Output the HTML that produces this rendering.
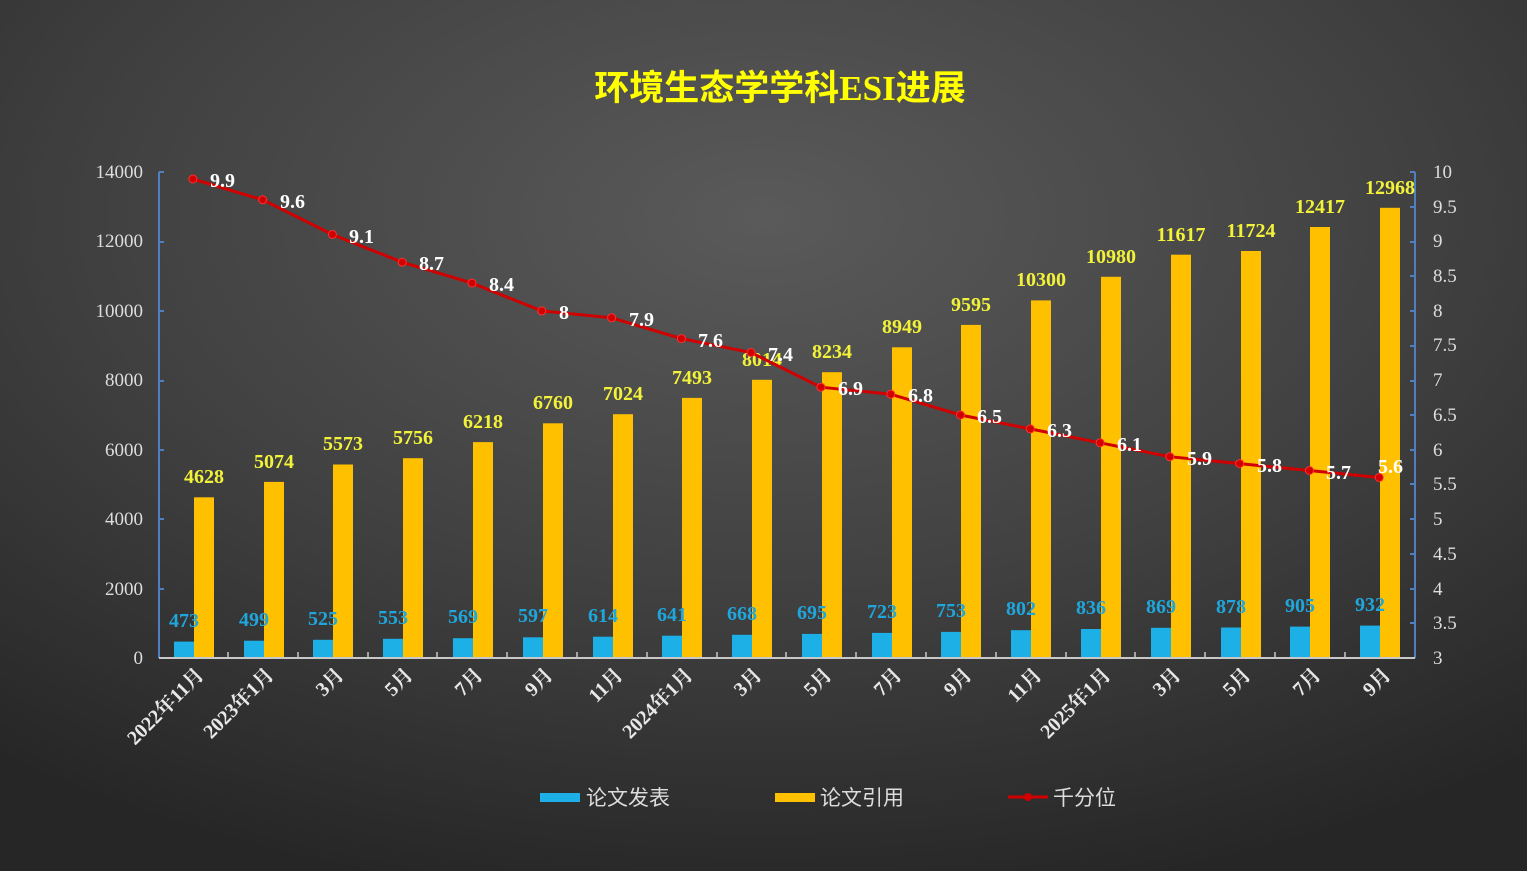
<!DOCTYPE html>
<html><head><meta charset="utf-8"><style>
html,body{margin:0;padding:0;width:1527px;height:871px;overflow:hidden;background:#2a2a2a}
svg{display:block}
text{font-family:"Liberation Serif","Noto Serif CJK SC",serif}
</style></head><body>
<svg width="1527" height="871" viewBox="0 0 1527 871">
<defs>
<radialGradient id="bg" cx="50%" cy="25%" r="80%">
<stop offset="0" stop-color="#5a5a5a"/><stop offset="0.55" stop-color="#404040"/><stop offset="1" stop-color="#262626"/>
</radialGradient>
</defs>
<rect width="1527" height="871" fill="url(#bg)"/>
<text x="780" y="100" text-anchor="middle" font-size="35" font-weight="bold" fill="#ffff00" style='font-family:"Liberation Serif","Noto Sans CJK SC",serif'>环境生态学学科ESI进展</text>

<g fill="#ddd" font-size="19" text-anchor="end">
<text x="143" y="664">0</text><text x="143" y="595">2000</text><text x="143" y="525">4000</text><text x="143" y="456">6000</text><text x="143" y="386">8000</text><text x="143" y="317">10000</text><text x="143" y="247">12000</text><text x="143" y="178">14000</text>
</g>
<g fill="#ddd" font-size="19">
<text x="1433" y="664">3</text><text x="1433" y="629">3.5</text><text x="1433" y="595">4</text><text x="1433" y="560">4.5</text><text x="1433" y="525">5</text><text x="1433" y="490">5.5</text><text x="1433" y="456">6</text><text x="1433" y="421">6.5</text><text x="1433" y="386">7</text><text x="1433" y="351">7.5</text><text x="1433" y="317">8</text><text x="1433" y="282">8.5</text><text x="1433" y="247">9</text><text x="1433" y="213">9.5</text><text x="1433" y="178">10</text>
</g>
<g stroke="#4f7fbf" stroke-width="2">
<line x1="159" y1="172" x2="159" y2="658"/><line x1="1415" y1="172" x2="1415" y2="658"/>
<path d="M159 658h5M159 589h5M159 519h5M159 450h5M159 381h5M159 311h5M159 242h5M159 172h5"/>
<path d="M1415 658h-5M1415 623h-5M1415 589h-5M1415 554h-5M1415 519h-5M1415 484h-5M1415 450h-5M1415 415h-5M1415 381h-5M1415 346h-5M1415 311h-5M1415 276h-5M1415 242h-5M1415 207h-5M1415 172h-5"/>
</g>

<g fill="#1cb0e6">
<rect x="174" y="641.6" width="20" height="16.4"/><rect x="244" y="640.7" width="20" height="17.3"/><rect x="313" y="639.8" width="20" height="18.2"/><rect x="383" y="638.8" width="20" height="19.2"/><rect x="453" y="638.2" width="20" height="19.8"/><rect x="523" y="637.3" width="20" height="20.7"/><rect x="593" y="636.7" width="20" height="21.3"/><rect x="662" y="635.7" width="20" height="22.3"/><rect x="732" y="634.8" width="20" height="23.2"/><rect x="802" y="633.9" width="20" height="24.1"/><rect x="872" y="632.9" width="20" height="25.1"/><rect x="941" y="631.9" width="20" height="26.1"/><rect x="1011" y="630.2" width="20" height="27.8"/><rect x="1081" y="629" width="20" height="29"/><rect x="1151" y="627.8" width="20" height="30.2"/><rect x="1221" y="627.5" width="20" height="30.5"/><rect x="1290" y="626.6" width="20" height="31.4"/><rect x="1360" y="625.6" width="20" height="32.4"/>
</g>
<g fill="#ffc000">
<rect x="194" y="497.3" width="20" height="160.7"/><rect x="264" y="481.9" width="20" height="176.1"/><rect x="333" y="464.5" width="20" height="193.5"/><rect x="403" y="458.2" width="20" height="199.8"/><rect x="473" y="442.1" width="20" height="215.9"/><rect x="543" y="423.3" width="20" height="234.7"/><rect x="613" y="414.2" width="20" height="243.8"/><rect x="682" y="397.9" width="20" height="260.1"/><rect x="752" y="379.8" width="20" height="278.2"/><rect x="822" y="372.2" width="20" height="285.8"/><rect x="892" y="347.3" width="20" height="310.7"/><rect x="961" y="324.9" width="20" height="333.1"/><rect x="1031" y="300.4" width="20" height="357.6"/><rect x="1101" y="276.8" width="20" height="381.2"/><rect x="1171" y="254.7" width="20" height="403.3"/><rect x="1241" y="251" width="20" height="407"/><rect x="1310" y="227" width="20" height="431"/><rect x="1380" y="207.8" width="20" height="450.2"/>
</g>

<line x1="159" y1="658" x2="1415" y2="658" stroke="#c8c8c8" stroke-width="2"/>
<path stroke="#c8c8c8" stroke-width="1.5" d="M228 658v-6M298 658v-6M368 658v-6M437 658v-6M507 658v-6M577 658v-6M647 658v-6M717 658v-6M786 658v-6M856 658v-6M926 658v-6M996 658v-6M1066 658v-6M1135 658v-6M1205 658v-6M1275 658v-6M1345 658v-6"/>

<g fill="#1fa6dc" font-size="20" font-weight="bold" text-anchor="middle">
<text x="184" y="627">473</text><text x="254" y="626">499</text><text x="323" y="625">525</text><text x="393" y="624">553</text><text x="463" y="623">569</text><text x="533" y="622">597</text><text x="603" y="622">614</text><text x="672" y="621">641</text><text x="742" y="620">668</text><text x="812" y="619">695</text><text x="882" y="618">723</text><text x="951" y="617">753</text><text x="1021" y="615">802</text><text x="1091" y="614">836</text><text x="1161" y="613">869</text><text x="1231" y="613">878</text><text x="1300" y="612">905</text><text x="1370" y="611">932</text>
</g>
<g fill="#f2f23a" font-size="20" font-weight="bold" text-anchor="middle">
<text x="204" y="483">4628</text><text x="274" y="468">5074</text><text x="343" y="450">5573</text><text x="413" y="444">5756</text><text x="483" y="428">6218</text><text x="553" y="409">6760</text><text x="623" y="400">7024</text><text x="692" y="384">7493</text><text x="762" y="366">8014</text><text x="832" y="358">8234</text><text x="902" y="333">8949</text><text x="971" y="311">9595</text><text x="1041" y="286">10300</text><text x="1111" y="263">10980</text><text x="1181" y="241">11617</text><text x="1251" y="237">11724</text><text x="1320" y="213">12417</text><text x="1390" y="194">12968</text>
</g>

<polyline fill="none" stroke="#d00000" stroke-width="3" points="192.9,179 262.7,199.8 332.4,234.5 402.2,262.2 472,283.1 541.8,310.9 611.6,317.8 681.4,338.6 751.1,352.5 820.9,387.2 890.7,394.2 960.5,415 1030.3,428.9 1100.1,442.8 1169.8,456.7 1239.6,463.6 1309.4,470.5 1379.2,477.5"/>
<g fill="#d00000" stroke="#ff3030" stroke-width="1">
<circle cx="192.9" cy="179" r="4"/><circle cx="262.7" cy="199.8" r="4"/><circle cx="332.4" cy="234.5" r="4"/><circle cx="402.2" cy="262.2" r="4"/><circle cx="472" cy="283.1" r="4"/><circle cx="541.8" cy="310.9" r="4"/><circle cx="611.6" cy="317.8" r="4"/><circle cx="681.4" cy="338.6" r="4"/><circle cx="751.1" cy="352.5" r="4"/><circle cx="820.9" cy="387.2" r="4"/><circle cx="890.7" cy="394.2" r="4"/><circle cx="960.5" cy="415" r="4"/><circle cx="1030.3" cy="428.9" r="4"/><circle cx="1100.1" cy="442.8" r="4"/><circle cx="1169.8" cy="456.7" r="4"/><circle cx="1239.6" cy="463.6" r="4"/><circle cx="1309.4" cy="470.5" r="4"/><circle cx="1379.2" cy="477.5" r="4"/>
</g>
<g fill="#fff" font-size="20" font-weight="bold">
<text x="210" y="187">9.9</text><text x="280" y="208">9.6</text><text x="349" y="243">9.1</text><text x="419" y="270">8.7</text><text x="489" y="291">8.4</text><text x="559" y="319">8</text><text x="629" y="326">7.9</text><text x="698" y="347">7.6</text><text x="768" y="361">7.4</text><text x="838" y="395">6.9</text><text x="908" y="402">6.8</text><text x="977" y="423">6.5</text><text x="1047" y="437">6.3</text><text x="1117" y="451">6.1</text><text x="1187" y="465">5.9</text><text x="1257" y="472">5.8</text><text x="1326" y="479">5.7</text><text x="1378" y="473">5.6</text>
</g>

<g fill="#e8e8e8" font-size="20" font-weight="bold" text-anchor="end" style='font-family:"Liberation Serif","Noto Serif CJK SC",serif'>
<text transform="translate(205,676) rotate(-45)">2022年11月</text>
<text transform="translate(275,676) rotate(-45)">2023年1月</text>
<text transform="translate(345,676) rotate(-45)">3月</text>
<text transform="translate(414,676) rotate(-45)">5月</text>
<text transform="translate(484,676) rotate(-45)">7月</text>
<text transform="translate(554,676) rotate(-45)">9月</text>
<text transform="translate(624,676) rotate(-45)">11月</text>
<text transform="translate(694,676) rotate(-45)">2024年1月</text>
<text transform="translate(763,676) rotate(-45)">3月</text>
<text transform="translate(833,676) rotate(-45)">5月</text>
<text transform="translate(903,676) rotate(-45)">7月</text>
<text transform="translate(973,676) rotate(-45)">9月</text>
<text transform="translate(1043,676) rotate(-45)">11月</text>
<text transform="translate(1112,676) rotate(-45)">2025年1月</text>
<text transform="translate(1182,676) rotate(-45)">3月</text>
<text transform="translate(1252,676) rotate(-45)">5月</text>
<text transform="translate(1322,676) rotate(-45)">7月</text>
<text transform="translate(1392,676) rotate(-45)">9月</text>
</g>

<rect x="540" y="793" width="40" height="9" fill="#1cb0e6"/>
<text x="586" y="805" font-size="21" fill="#ddd" style='font-family:"Liberation Sans","Noto Sans CJK SC",sans-serif'>论文发表</text>
<rect x="775" y="793" width="40" height="9" fill="#ffc000"/>
<text x="820" y="805" font-size="21" fill="#ddd" style='font-family:"Liberation Sans","Noto Sans CJK SC",sans-serif'>论文引用</text>
<line x1="1008" y1="797" x2="1048" y2="797" stroke="#d00000" stroke-width="3"/>
<circle cx="1028" cy="797" r="4" fill="#d00000"/>
<text x="1053" y="805" font-size="21" fill="#ddd" style='font-family:"Liberation Sans","Noto Sans CJK SC",sans-serif'>千分位</text>
</svg>
</body></html>
